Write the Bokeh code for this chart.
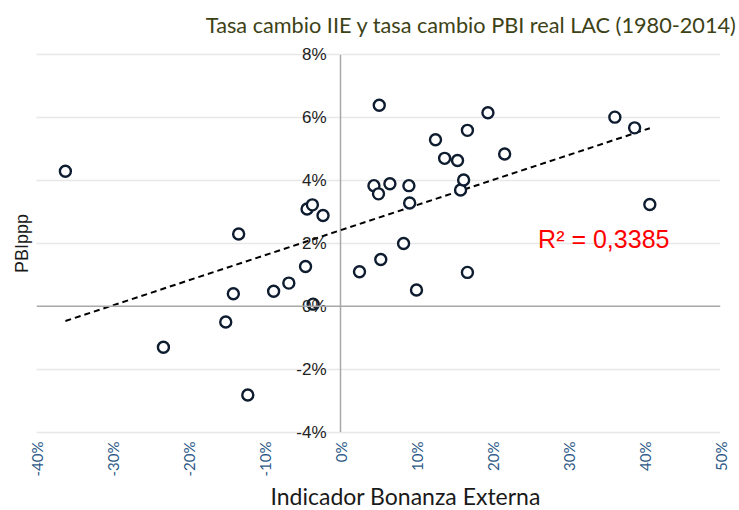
import numpy as np
from bokeh.plotting import figure
from bokeh.models import Span, Label, FixedTicker, LinearAxis, Title
from bokeh.embed import file_html
from bokeh.resources import INLINE

# Data (percent units)
bonanza = [-36.2, -23.3, -15.1, -14.1, -13.4, -12.2, -8.8, -6.8, -4.6, -4.4, -3.7, -3.6, -2.3,
           2.5, 4.4, 5.0, 5.1, 5.3, 6.5, 8.3, 9.0, 9.1, 10.0, 12.5, 13.7, 15.4, 15.8, 16.2,
           16.7, 16.7, 19.4, 21.6, 36.1, 38.7, 40.7]
pbippp = [4.3, -1.3, -0.5, 0.4, 2.3, -2.82, 0.48, 0.74, 1.27, 3.1, 3.23, 0.07, 2.89,
          1.1, 3.84, 3.58, 6.4, 1.49, 3.9, 2.0, 3.84, 3.29, 0.52, 5.3, 4.71, 4.64, 3.7, 4.02,
          5.6, 1.08, 6.16, 4.85, 6.02, 5.68, 3.24]
x_ticks = [-40, -30, -20, -10, 0, 10, 20, 30, 40, 50]
x_tick_labels = ["-40%", "-30%", "-20%", "-10%", "0%", "10%", "20%", "30%", "40%", "50%"]
y_ticks = [-4, -2, 0, 2, 4, 6, 8]
y_tick_labels = ["-4%", "-2%", "0%", "2%", "4%", "6%", "8%"]
title_text = "Tasa cambio IIE y  tasa cambio PBI real LAC (1980-2014)"
x_title = "Indicador Bonanza Externa"
y_title = "PBIppp"
r2_text = "R² = 0,3385"

W, H = 739, 510
FL, FT, FW, FH = 36, 45, 684, 396
p = figure(width=W, height=H, x_range=(-40, 50), y_range=(-4.3, 8.3),
           output_backend="svg", toolbar_location=None, y_axis_location=None,
           min_border_left=FL, min_border_right=W - FL - FW,
           min_border_top=FT, min_border_bottom=H - FT - FH)
p.outline_line_color = None
p.background_fill_color = "white"

# grid
p.xgrid.visible = False
p.ygrid.ticker = FixedTicker(ticks=[t for t in y_ticks if t != 0])
p.ygrid.grid_line_color = "#D0D0D0"
p.ygrid.grid_line_dash = "1 1"
p.ygrid.grid_line_width = 1.5

# x axis
xa = p.xaxis[0]
xa.ticker = FixedTicker(ticks=x_ticks)
xa.major_label_overrides = {t: l for t, l in zip(x_ticks, x_tick_labels)}
xa.major_label_orientation = np.pi / 2
xa.axis_line_color = None
xa.major_tick_line_color = None
xa.minor_tick_line_color = None
xa.major_tick_out = 0
xa.major_tick_in = 0
xa.minor_tick_out = 0
xa.major_label_standoff = 0
xa.major_label_text_font = "Lato"
xa.major_label_text_font_size = "15px"
xa.major_label_text_color = "#2E5A88"

# zero lines
p.add_layout(Span(location=0, dimension="width", line_color="#A8A8A8", line_width=1.5))
p.segment(x0=0, y0=min(y_ticks), x1=0, y1=max(y_ticks), line_color="#A8A8A8", line_width=1.5)

# y axis placed at x = 0
ya = LinearAxis(fixed_location=0)
ya.ticker = FixedTicker(ticks=y_ticks)
ya.major_label_overrides = {t: l for t, l in zip(y_ticks, y_tick_labels)}
ya.axis_line_color = None
ya.major_tick_line_color = None
ya.minor_tick_line_color = None
ya.major_tick_out = 0
ya.major_tick_in = 0
ya.major_label_standoff = 14
ya.major_label_text_font = "Liberation Sans"
ya.major_label_text_font_size = "17px"
ya.major_label_text_color = "#222222"
p.add_layout(ya, "left")

# trend line (least squares)
xs = np.array(bonanza)
ys = np.array(pbippp)
m, b = np.polyfit(xs, ys, 1)
tx = np.array([xs.min(), xs.max()])
p.line(tx, m * tx + b, line_color="black", line_width=2, line_dash="6 4")

# points
p.scatter(bonanza, pbippp, size=11, marker="circle", fill_color="white",
          line_color="#0E1C2F", line_width=2.4)

# texts
p.add_layout(Label(x=26.0, y=2.15, text=r2_text, text_color="#FF0000",
                   text_font="Liberation Sans", text_font_size="25px",
                   text_baseline="middle"))
p.add_layout(Title(text=title_text, align="right", offset=-22, standoff=16,
                   text_color="#3D4216", text_font="Lato", text_font_size="21.7px",
                   text_font_style="normal"), "above")
p.add_layout(Title(text=x_title, align="left", offset=234, standoff=0, text_color="#1A1A1A",
                   text_font="Lato", text_font_size="23px", text_font_style="normal"), "below")
p.add_layout(Title(text=y_title, align="center", text_color="#1A1A1A",
                   text_font="Liberation Sans", text_font_size="18px",
                   text_font_style="normal"), "left")

open("out.html", "w").write(file_html(p, INLINE))
